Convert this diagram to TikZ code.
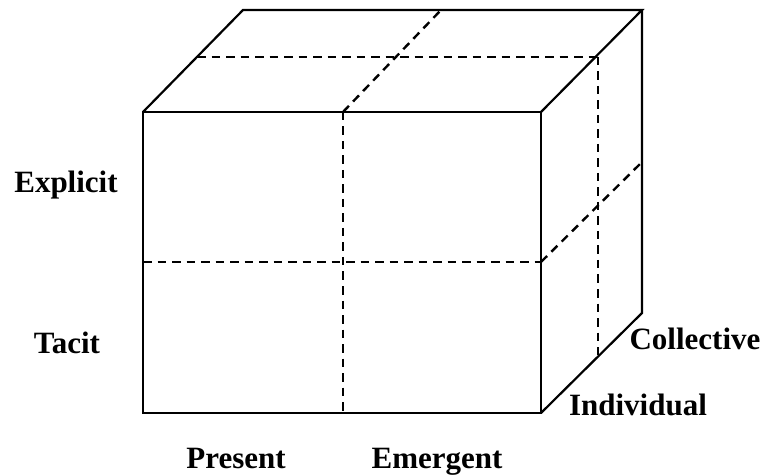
\documentclass[tikz,border=0pt]{standalone}
\usepackage{fontspec}
\setmainfont{Liberation Serif}
\begin{document}
\begin{tikzpicture}[x=1pt,y=-1pt,
  edge/.style={line width=2.2pt, line join=miter},
  hid/.style={line width=2.4pt, dash pattern=on 8.5pt off 6pt},
  lab/.style={font=\fontsize{31}{34}\selectfont\bfseries, inner sep=0pt, anchor=base}]
\useasboundingbox (0,0) rectangle (764,476);
% corners
\coordinate (A) at (143,112);
\coordinate (B) at (541,112);
\coordinate (C) at (541,413);
\coordinate (D) at (143,413);
\coordinate (E) at (243,10);
\coordinate (F) at (642,10);
\coordinate (G) at (642,313);
% midpoints
\coordinate (tm1) at (197,57);
\coordinate (tm2) at (598,57);
\coordinate (fv1) at (343,112);
\coordinate (fv2) at (343,413);
\coordinate (tv) at (441,10);
\coordinate (fh1) at (143,262);
\coordinate (fh2) at (541,262);
\coordinate (rh) at (642,162);
\coordinate (rv) at (598,355);
% dashed
\draw[hid] (tm1) -- (tm2);
\draw[hid] (fv1) -- (tv);
\draw[hid] (fv1) -- (fv2);
\draw[hid] (fh1) -- (fh2);
\draw[hid] (fh2) -- (rh);
\draw[hid] (tm2) -- (rv);
% solid edges
\draw[edge] (A) -- (B) -- (C) -- (D) -- cycle;
\draw[edge] (A) -- (E) -- (F) -- (B);
\draw[edge] (F) -- (G) -- (C);
% labels
\node[lab] (explicit) at (66,193) {Explicit};
\node[lab] (tacit) at (67,353) {Tacit};
\node[lab] (present) at (236,468) {Present};
\node[lab] (emergent) at (437,468) {Emergent};
\node[lab] (collective) at (695,349) {Collective};
\node[lab] (individual) at (638,415) {Individual};
\end{tikzpicture}
\end{document}
